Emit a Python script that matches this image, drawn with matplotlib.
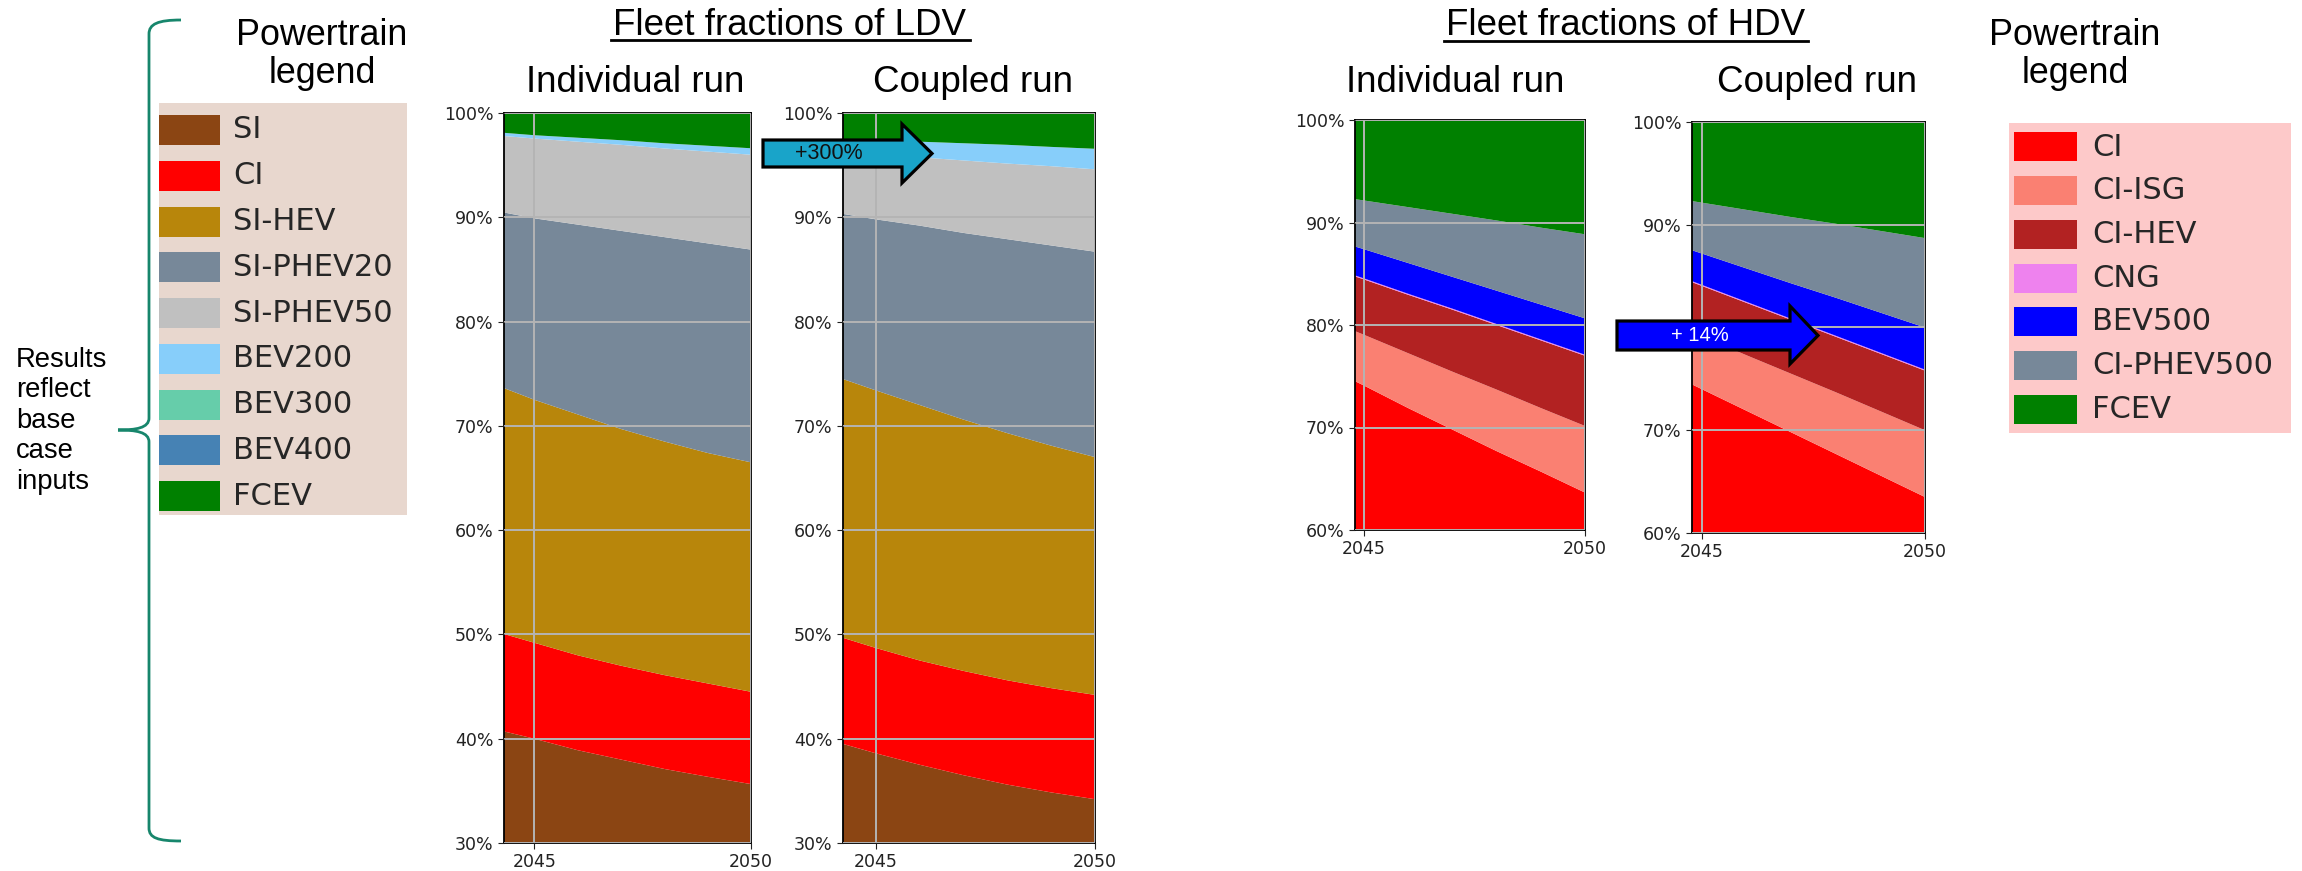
import matplotlib
matplotlib.use('Agg')
import matplotlib.pyplot as plt
from matplotlib.patches import Polygon, Rectangle, PathPatch
from matplotlib.path import Path
from matplotlib.lines import Line2D
from matplotlib.transforms import Affine2D
from matplotlib.ticker import PercentFormatter, FixedLocator

# ---------------- data ----------------
years = [2044, 2045, 2046, 2047, 2048, 2049, 2050]
xtick_years = [2045, 2050]

ldv_labels = ['SI', 'CI', 'SI-HEV', 'SI-PHEV20', 'SI-PHEV50', 'BEV200', 'BEV300', 'BEV400', 'FCEV']
ldv_colors = ['#8B4513', '#FF0000', '#B8860B', '#778899', '#C0C0C0', '#87CEFA', '#66CDAA', '#4682B4', '#008000']

# LDV individual run (% of fleet)
ldv_ind_SI       = [41.0, 40.0, 38.9, 38.0, 37.1, 36.35, 35.65]
ldv_ind_CI       = [9.4, 9.2, 9.1, 9.0, 9.0, 8.95, 8.85]
ldv_ind_SIHEV    = [23.7, 23.3, 23.1, 22.7, 22.4, 22.1, 22.0]
ldv_ind_PHEV20   = [16.6, 17.4, 18.2, 19.0, 19.6, 20.1, 20.4]
ldv_ind_PHEV50   = [7.2, 7.65, 7.95, 8.25, 8.5, 8.8, 9.1]
ldv_ind_BEV200   = [0.30, 0.32, 0.38, 0.44, 0.50, 0.56, 0.62]
ldv_ind_BEV300   = [0, 0, 0, 0, 0, 0, 0]
ldv_ind_BEV400   = [0, 0, 0, 0, 0, 0, 0]
ldv_ind_FCEV     = [1.8, 2.13, 2.37, 2.61, 2.9, 3.14, 3.38]

# LDV coupled run
ldv_cpl_SI       = [39.8, 38.6, 37.5, 36.5, 35.6, 34.85, 34.2]
ldv_cpl_CI       = [10.2, 10.1, 10.0, 10.0, 10.0, 10.0, 10.0]
ldv_cpl_SIHEV    = [24.85, 24.7, 24.5, 24.1, 23.7, 23.25, 22.8]
ldv_cpl_PHEV20   = [15.65, 16.4, 17.2, 17.9, 18.6, 19.2, 19.7]
ldv_cpl_PHEV50   = [5.85, 6.25, 6.55, 6.95, 7.25, 7.6, 7.9]
ldv_cpl_BEV200   = [1.2, 1.35, 1.5, 1.65, 1.8, 1.85, 1.97]
ldv_cpl_BEV300   = [0, 0, 0, 0, 0, 0, 0]
ldv_cpl_BEV400   = [0, 0, 0, 0, 0, 0, 0]
ldv_cpl_FCEV     = [2.45, 2.6, 2.75, 2.9, 3.05, 3.25, 3.43]

hdv_labels = ['CI', 'CI-ISG', 'CI-HEV', 'CNG', 'BEV500', 'CI-PHEV500', 'FCEV']
hdv_colors = ['#FF0000', '#FA8072', '#B22222', '#EE82EE', '#0000FF', '#778899', '#008000']

# HDV individual run
hdv_ind_CI      = [76.2, 74.1, 71.9, 69.8, 67.7, 65.7, 63.65]
hdv_ind_CIISG   = [4.6, 4.95, 5.35, 5.65, 6.0, 6.2, 6.5]
hdv_ind_CIHEV   = [5.1, 5.4, 5.7, 6.05, 6.3, 6.6, 6.85]
hdv_ind_CNG     = [0.1, 0.1, 0.1, 0.1, 0.1, 0.1, 0.1]
hdv_ind_BEV500  = [2.7, 2.85, 3.0, 3.1, 3.25, 3.4, 3.55]
hdv_ind_PHEV500 = [4.1, 4.75, 5.45, 6.15, 6.85, 7.5, 8.2]
hdv_ind_FCEV    = [7.2, 7.85, 8.5, 9.15, 9.8, 10.5, 11.15]

# HDV coupled run
hdv_cpl_CI      = [76.1, 74.0, 71.9, 69.8, 67.7, 65.6, 63.5]
hdv_cpl_CIISG   = [4.9, 5.15, 5.4, 5.7, 6.0, 6.25, 6.5]
hdv_cpl_CIHEV   = [4.7, 4.9, 5.1, 5.25, 5.4, 5.6, 5.8]
hdv_cpl_CNG     = [0.1, 0.1, 0.1, 0.1, 0.1, 0.1, 0.1]
hdv_cpl_BEV500  = [2.85, 3.05, 3.25, 3.45, 3.7, 3.9, 4.1]
hdv_cpl_PHEV500 = [4.2, 4.95, 5.7, 6.45, 7.2, 7.95, 8.7]
hdv_cpl_FCEV    = [7.15, 7.85, 8.55, 9.25, 9.9, 10.6, 11.3]

ldv_ind = [ldv_ind_SI, ldv_ind_CI, ldv_ind_SIHEV, ldv_ind_PHEV20, ldv_ind_PHEV50,
           ldv_ind_BEV200, ldv_ind_BEV300, ldv_ind_BEV400, ldv_ind_FCEV]
ldv_cpl = [ldv_cpl_SI, ldv_cpl_CI, ldv_cpl_SIHEV, ldv_cpl_PHEV20, ldv_cpl_PHEV50,
           ldv_cpl_BEV200, ldv_cpl_BEV300, ldv_cpl_BEV400, ldv_cpl_FCEV]
hdv_ind = [hdv_ind_CI, hdv_ind_CIISG, hdv_ind_CIHEV, hdv_ind_CNG, hdv_ind_BEV500,
           hdv_ind_PHEV500, hdv_ind_FCEV]
hdv_cpl = [hdv_cpl_CI, hdv_cpl_CIISG, hdv_cpl_CIHEV, hdv_cpl_CNG, hdv_cpl_BEV500,
           hdv_cpl_PHEV500, hdv_cpl_FCEV]

# ---------------- figure ----------------
W, H = 2302, 871
fig = plt.figure(figsize=(W / 100, H / 100), dpi=100)
PX = Affine2D().scale(1 / W, -1 / H).translate(0, 1) + fig.transFigure

SANS = ['Liberation Sans', 'DejaVu Sans']


def add_ax(x0, y0, x1, y1):
    return fig.add_axes([x0 / W, 1 - y1 / H, (x1 - x0) / W, (y1 - y0) / H])


def stack_panel(ax, series, colors, xlim, ylim, yticks):
    ax.stackplot(years, *series, colors=colors, linewidth=0)
    ax.set_xlim(*xlim)
    ax.set_ylim(*ylim)
    ax.xaxis.set_major_locator(FixedLocator(xtick_years))
    ax.set_xticklabels([str(y) for y in xtick_years])
    ax.yaxis.set_major_locator(FixedLocator(yticks))
    ax.yaxis.set_major_formatter(PercentFormatter(xmax=100, decimals=0))
    ax.tick_params(labelsize=12.5, length=4, colors='#222222')
    ax.set_axisbelow(False)
    ax.grid(True, color='#b4b4b4', linewidth=1.4)
    for s in ax.spines.values():
        s.set_color('black')
        s.set_linewidth(1.3)


ax1 = add_ax(504, 113, 751, 843)
stack_panel(ax1, ldv_ind, ldv_colors, (2044.3, 2050), (30, 100), [30, 40, 50, 60, 70, 80, 90, 100])
ax2 = add_ax(843, 113, 1095, 843)
stack_panel(ax2, ldv_cpl, ldv_colors, (2044.25, 2050), (30, 100), [30, 40, 50, 60, 70, 80, 90, 100])
ax3 = add_ax(1355, 120, 1585, 530)
stack_panel(ax3, hdv_ind, hdv_colors, (2044.8, 2050), (60, 100), [60, 70, 80, 90, 100])
ax4 = add_ax(1692, 122, 1925, 533)
stack_panel(ax4, hdv_cpl, hdv_colors, (2044.78, 2050), (60, 100), [60, 70, 80, 90, 100])


def ptext(x, y, s, **kw):
    kw.setdefault('family', SANS)
    return fig.text(x, y, s, transform=PX, **kw)


# titles
ptext(790, 35, 'Fleet fractions of LDV', fontsize=26.5, ha='center', va='baseline')
fig.add_artist(Line2D([611, 970], [40, 40], transform=PX, color='black', lw=2))
ptext(1626, 35, 'Fleet fractions of HDV', fontsize=26.5, ha='center', va='baseline')
fig.add_artist(Line2D([1444, 1808], [41.5, 41.5], transform=PX, color='black', lw=2))
ptext(635, 92, 'Individual run', fontsize=26.5, ha='center', va='baseline')
ptext(973, 92, 'Coupled run', fontsize=26.5, ha='center', va='baseline')
ptext(1455, 92, 'Individual run', fontsize=26.5, ha='center', va='baseline')
ptext(1817, 92, 'Coupled run', fontsize=26.5, ha='center', va='baseline')

# "Powertrain legend" headings
for cx in (322, 2075):
    ptext(cx, 45, 'Powertrain', fontsize=25.8, ha='center', va='baseline')
    ptext(cx, 83, 'legend', fontsize=25.8, ha='center', va='baseline')


# legends (drawn as patches + text)
def draw_legend(box, labels, colors, first_cy, step, patch_x, patch_w, patch_h, text_x, face, fs):
    bx0, by0, bx1, by1 = box
    fig.add_artist(Rectangle((bx0, by0), bx1 - bx0, by1 - by0, transform=PX,
                             facecolor=face, edgecolor='none', zorder=0))
    for i, (lab, col) in enumerate(zip(labels, colors)):
        cy = first_cy + i * step
        fig.add_artist(Rectangle((patch_x, cy - patch_h / 2), patch_w, patch_h, transform=PX,
                                 facecolor=col, edgecolor='none', zorder=1))
        fig.text(text_x, cy, lab, transform=PX, fontsize=fs, ha='left', va='center',
                 color='#262626', family='DejaVu Sans')


draw_legend((159, 103, 407, 515), ldv_labels, ldv_colors, 130, 45.75, 159, 61, 30, 233, '#E8D7CE', 22)
draw_legend((2009, 123, 2291, 433), hdv_labels, hdv_colors, 147, 43.7, 2014, 63, 29, 2092, '#FDC9C9', 22)

# bracket
bx, tipx = 149, 118
verts = [(181, 20), (158, 20), (149, 24), (149, 34),
         (149, 418), (149, 428), (136, 430), (tipx, 430),
         (136, 430), (149, 432), (149, 442),
         (149, 828), (149, 838), (158, 841), (181, 841)]
codes = [Path.MOVETO, Path.CURVE4, Path.CURVE4, Path.CURVE4,
         Path.LINETO, Path.CURVE4, Path.CURVE4, Path.CURVE4,
         Path.CURVE4, Path.CURVE4, Path.CURVE4,
         Path.LINETO, Path.CURVE4, Path.CURVE4, Path.CURVE4]
fig.add_artist(PathPatch(Path(verts, codes), transform=PX, facecolor='none',
                         edgecolor='#17866C', lw=2))

ptext(16, 347, 'Results\nreflect\nbase\ncase\ninputs', fontsize=19.7, ha='left', va='top',
      linespacing=1.22)


# arrows
def draw_arrow(x0, x_head, x_tip, by0, by1, hy0, hy1, face, text, tcolor, fs):
    cy = (by0 + by1) / 2
    pts = [(x0, by0), (x_head, by0), (x_head, hy0), (x_tip, cy), (x_head, hy1),
           (x_head, by1), (x0, by1)]
    fig.add_artist(Polygon(pts, closed=True, transform=PX, facecolor=face,
                           edgecolor='black', lw=2.3, zorder=10))
    fig.text((x0 + x_head) / 2 - 4, cy, text, transform=PX, fontsize=fs, ha='center',
             va='center', color=tcolor, family=SANS, zorder=11)


draw_arrow(763, 902, 932, 140, 167, 124, 183, '#19A4C9', '+300%', '#111111', 15.5)
draw_arrow(1617, 1790, 1818, 321, 350, 306, 364, '#0000FF', '+ 14%', 'white', 14.5)

fig.savefig('out.png', dpi=100)
